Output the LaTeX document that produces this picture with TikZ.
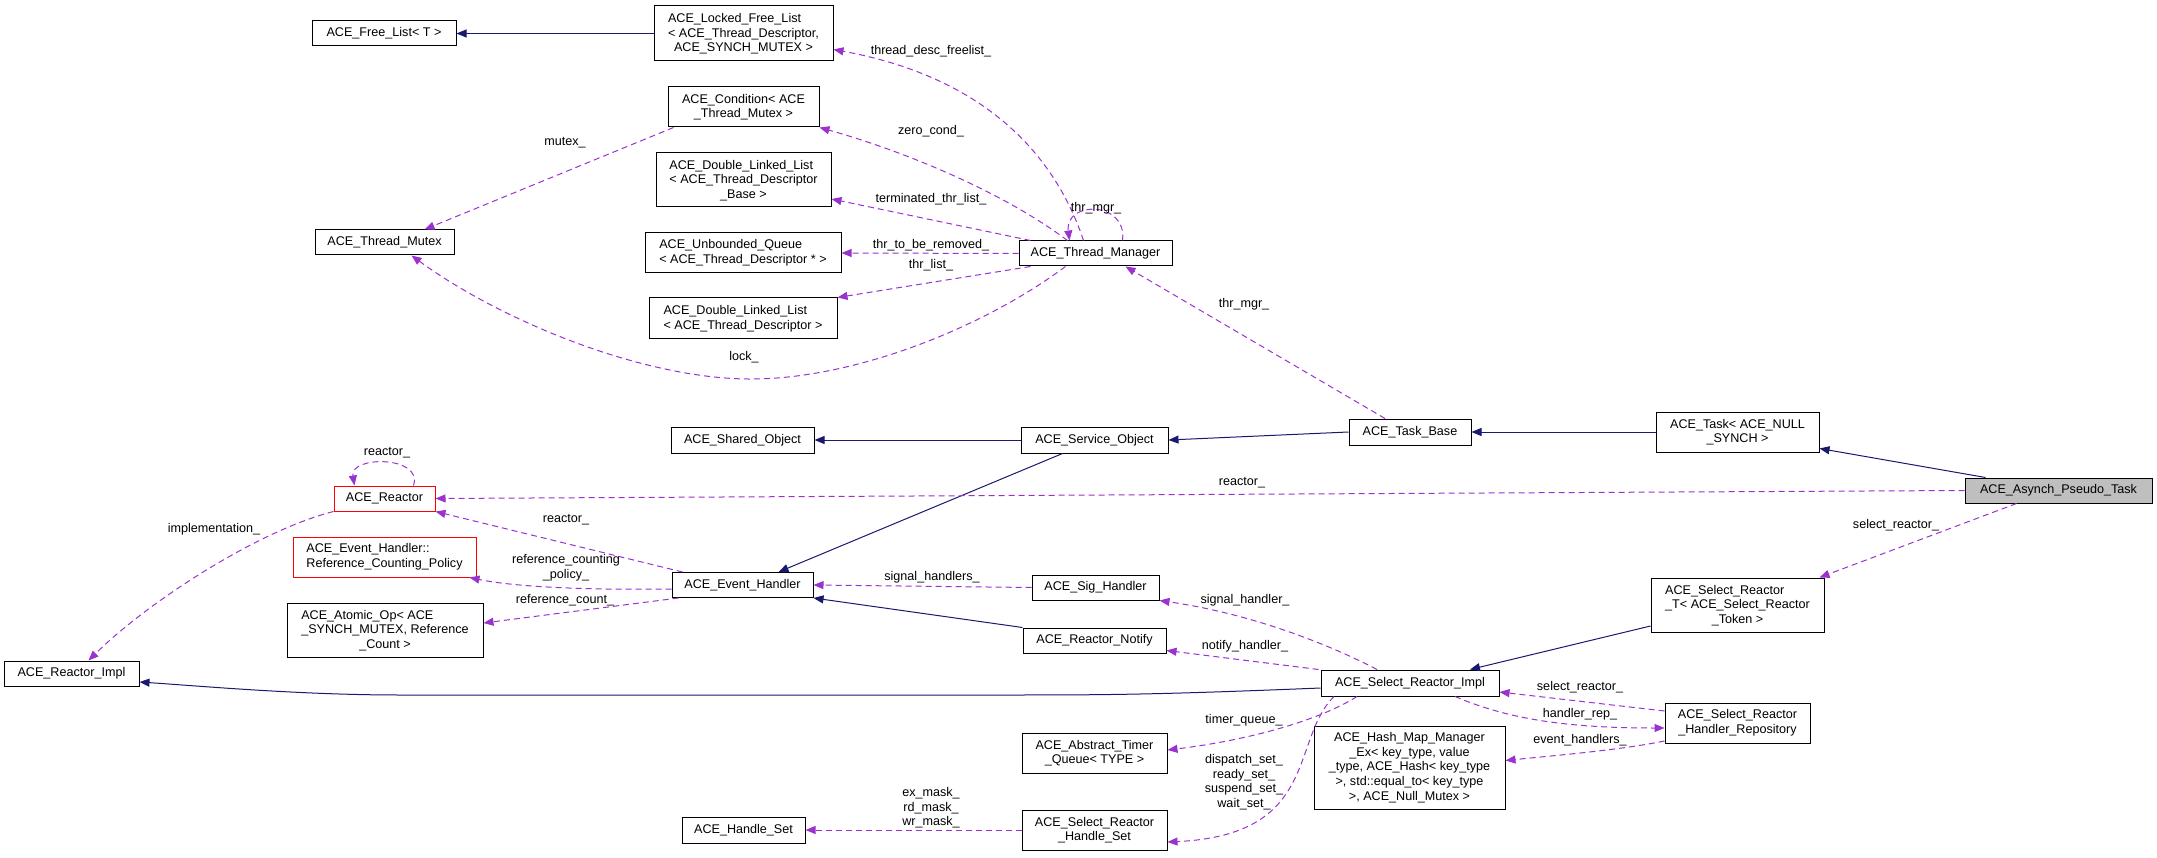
\documentclass[tikz,border=0pt]{standalone}
\usepackage{fontspec}
\setmainfont{Liberation Sans}
\usetikzlibrary{arrows.meta}
\definecolor{midblue}{HTML}{191970}
\definecolor{orchid}{HTML}{9A32CD}
\definecolor{boxgray}{HTML}{BFBFBF}
\newcommand{\leftpair}[2]{\begin{tabular}[b]{@{}l@{}}#1\\#2\end{tabular}}

\begin{document}
\begin{tikzpicture}[x=1pt, y=-1pt,
    cls/.style={draw=black, line width=1pt, fill=white, inner sep=0pt, align=center,
      font=\fontsize{12.6}{14.6}\selectfont},
    lbl/.style={inner sep=0pt, align=center, font=\fontsize{12.6}{14.6}\selectfont},
    inherit/.style={draw=midblue, line width=1pt, -{Triangle[length=10pt,width=8pt]}},
    uses/.style={draw=orchid, line width=1pt, dash pattern=on 6pt off 4pt,
      -{Triangle[length=10pt,width=8pt]}}]
    \useasboundingbox (0,0) rectangle (2157,858);
    % Thread manager side
    \node[cls, minimum width=144, minimum height=25] (freelist) at (384,33.5) {ACE\_Free\_List< T >};
    \node[cls, minimum width=179, minimum height=55] (lockedlist) at (743.5,33.5)
      {\leftpair{ACE\_Locked\_Free\_List}{< ACE\_Thread\_Descriptor,}\\ACE\_SYNCH\_MUTEX >};
    \node[cls, minimum width=151, minimum height=40] (condition) at (743.5,107) {ACE\_Condition< ACE\\\_Thread\_Mutex >};
    \node[cls, minimum width=175, minimum height=54] (dllbase) at (743.5,180)
      {\leftpair{ACE\_Double\_Linked\_List}{< ACE\_Thread\_Descriptor}\\\_Base >};
    \node[cls, align=left, minimum width=196, minimum height=40] (unbqueue) at (743,253)
      {ACE\_Unbounded\_Queue\\< ACE\_Thread\_Descriptor * >};
    \node[cls, align=left, minimum width=188, minimum height=41] (dlldesc) at (743,318.5)
      {ACE\_Double\_Linked\_List\\< ACE\_Thread\_Descriptor >};
    \node[cls, minimum width=139, minimum height=25] (thrmutex) at (384.5,242.5) {ACE\_Thread\_Mutex};
    \node[cls, minimum width=153, minimum height=25] (thrmgr) at (1095.5,253.5) {ACE\_Thread\_Manager};
    % Task chain
    \node[cls, minimum width=143, minimum height=26] (sharedobj) at (742.5,440) {ACE\_Shared\_Object};
    \node[cls, minimum width=147, minimum height=26] (serviceobj) at (1094.5,440) {ACE\_Service\_Object};
    \node[cls, minimum width=122, minimum height=26] (taskbase) at (1410,432) {ACE\_Task\_Base};
    \node[cls, minimum width=163, minimum height=40] (task) at (1737.5,432) {ACE\_Task< ACE\_NULL\\\_SYNCH >};
    \node[cls, fill=boxgray, minimum width=187, minimum height=25] (pseudotask) at (2058.5,490.5) {ACE\_Asynch\_Pseudo\_Task};
    % Reactor side
    \node[cls, draw=red, minimum width=101, minimum height=25] (reactor) at (384.5,498.5) {ACE\_Reactor};
    \node[cls, draw=red, align=left, minimum width=183, minimum height=40] (refpolicy) at (384.5,557)
      {ACE\_Event\_Handler::\\Reference\_Counting\_Policy};
    \node[cls, minimum width=196, minimum height=54] (atomicop) at (385,630)
      {\leftpair{ACE\_Atomic\_Op< ACE}{\_SYNCH\_MUTEX, Reference}\\\_Count >};
    \node[cls, minimum width=135, minimum height=25] (reactorimpl) at (71.5,673.5) {ACE\_Reactor\_Impl};
    \node[cls, minimum width=141, minimum height=25] (eventhandler) at (742.5,585) {ACE\_Event\_Handler};
    \node[cls, minimum width=127, minimum height=25] (sighandler) at (1095.5,587.5) {ACE\_Sig\_Handler};
    \node[cls, minimum width=143, minimum height=25] (notify) at (1094.5,640.5) {ACE\_Reactor\_Notify};
    \node[cls, minimum width=173, minimum height=54] (selectT) at (1737.5,605)
      {\leftpair{ACE\_Select\_Reactor}{\_T< ACE\_Select\_Reactor}\\\_Token >};
    \node[cls, minimum width=178, minimum height=26] (selectimpl) at (1410,683) {ACE\_Select\_Reactor\_Impl};
    \node[cls, minimum width=145, minimum height=40] (timerqueue) at (1094.5,753) {ACE\_Abstract\_Timer\\\_Queue< TYPE >};
    \node[cls, minimum width=191, minimum height=83] (hashmap) at (1409.5,767.5)
      {ACE\_Hash\_Map\_Manager\\\_Ex< key\_type, value\\\_type, ACE\_Hash< key\_type\\>, std::equal\_to< key\_type\\>, ACE\_Null\_Mutex >};
    \node[cls, minimum width=145, minimum height=40] (handlerrepo) at (1737.5,723) {ACE\_Select\_Reactor\\\_Handler\_Repository};
    \node[cls, minimum width=123, minimum height=26] (handleset) at (743.5,830) {ACE\_Handle\_Set};
    \node[cls, minimum width=145, minimum height=40] (selecthandleset) at (1094.5,830) {ACE\_Select\_Reactor\\\_Handle\_Set};
    % Inheritance
    \draw[inherit] (lockedlist) -- (freelist);
    \draw[inherit] (serviceobj) -- (sharedobj);
    \draw[inherit] (taskbase.west) -- (serviceobj.east);
    \draw[inherit] (task) -- (taskbase);
    \draw[inherit] ([xshift=21pt]pseudotask.north west) -- ([yshift=4pt]task.south east);
    \draw[inherit] ([xshift=-32pt]serviceobj.south) -- ([xshift=36pt]eventhandler.north);
    \draw[inherit] (notify.north west) -- (eventhandler.south east);
    \draw[inherit] ([yshift=-21pt]selectT.west) -- ([xshift=60pt]selectimpl.north);
    \draw[inherit] ([yshift=-5pt]selectimpl.west) .. controls (1150,695) and (1100,695) .. (1000,695)
      -- (400,695) .. controls (300,695) and (200,686) .. ([yshift=-8.5pt]reactorimpl.east);
    % Members of the thread manager
    \draw[uses] ([xshift=-12pt]thrmgr.north) .. controls (1060,170) and (1000,80) .. ([yshift=-16pt]lockedlist.east);
    \draw[uses] ([xshift=-28pt]thrmgr.north) .. controls (1000,190) and (900,150) .. (condition.south east);
    \draw[uses] ([xshift=-65pt]thrmgr.north) -- ([yshift=-19pt]dllbase.east);
    \draw[uses] (thrmgr.west) -- (unbqueue.east);
    \draw[uses] ([xshift=-65pt]thrmgr.south) -- (dlldesc.north east);
    \draw[uses] ([xshift=27pt]thrmgr.north) .. controls +(5,-40) and +(-5,-40) .. ([xshift=-26pt]thrmgr.north);
    \draw[uses] ([xshift=-30pt]thrmgr.south) .. controls (980,330) and (850,380) .. (748,379)
      .. controls (640,378) and (500,320) .. ([xshift=27pt]thrmutex.south);
    \draw[uses] ([xshift=6pt]condition.south west) -- ([xshift=40pt]thrmutex.north);
    \draw[uses] ([xshift=-25pt]taskbase.north) -- ([xshift=30pt]thrmgr.south);
    % Reactor members
    \draw[uses] (pseudotask.west) -- (reactor.east);
    \draw[uses] ([xshift=-22pt]reactor.north east) .. controls +(10,-30) and +(-5,-30) .. ([xshift=21pt]reactor.north west);
    \draw[uses] (reactor.south west) .. controls (260,530) and (150,600) .. ([xshift=17pt]reactorimpl.north);
    \draw[uses] ([xshift=11pt]eventhandler.north west) -- (reactor.south east);
    \draw[uses] ([yshift=-4pt]eventhandler.west) .. controls (600,590) and (520,588) .. ([xshift=-7pt]refpolicy.south east);
    \draw[uses] ([xshift=7pt]eventhandler.south west) -- ([yshift=7pt]atomicop.east);
    \draw[uses] (sighandler.west) -- (eventhandler.east);
    \draw[uses] ([xshift=-42pt]pseudotask.south) -- ([xshift=-5pt]selectT.north east);
    \draw[uses] ([xshift=-33pt]selectimpl.north) .. controls (1340,650) and (1260,615) .. (sighandler.south east);
    \draw[uses] ([xshift=-2pt]selectimpl.north west) -- ([yshift=-10pt]notify.east);
    \draw[uses] ([xshift=-53pt]selectimpl.south) .. controls (1320,720) and (1250,740) .. ([yshift=3pt]timerqueue.east);
    \draw[uses] ([xshift=-76pt]selectimpl.south) .. controls (1290,740) and (1320,835) .. ([yshift=-12pt]selecthandleset.east);
    \draw[uses] (selecthandleset.west) -- (handleset.east);
    \draw[uses] ([xshift=45pt]selectimpl.south) .. controls (1510,720) and (1570,728) .. ([yshift=-5pt]handlerrepo.west);
    \draw[uses] ([yshift=12pt]handlerrepo.west) -- ([yshift=-9pt]selectimpl.east);
    \draw[uses] ([yshift=-18pt]handlerrepo.west) .. controls (1620,750) and (1560,755) .. ([yshift=7pt]hashmap.east);
    % Labels
    \node[lbl] (l-freelist) at (931,51) {thread\_desc\_freelist\_};
    \node[lbl] (l-zerocond) at (931,131) {zero\_cond\_};
    \node[lbl] (l-terminated) at (931,199) {terminated\_thr\_list\_};
    \node[lbl] (l-selfmgr) at (1096,208) {thr\_mgr\_};
    \node[lbl] (l-removed) at (931,245) {thr\_to\_be\_removed\_};
    \node[lbl] (l-thrlist) at (931,265) {thr\_list\_};
    \node[lbl] (l-mutex) at (565,143) {mutex\_};
    \node[lbl] (l-lock) at (744,357) {lock\_};
    \node[lbl] (l-thrmgr) at (1244,304) {thr\_mgr\_};
    \node[lbl] (l-reactor) at (1242,483) {reactor\_};
    \node[lbl] (l-selfreactor) at (387,453) {reactor\_};
    \node[lbl] (l-impl) at (214,529) {implementation\_};
    \node[lbl] (l-ehreactor) at (566,520) {reactor\_};
    \node[lbl] (l-policy) at (566,568) {reference\_counting\\\_policy\_};
    \node[lbl] (l-refcount) at (565,600) {reference\_count\_};
    \node[lbl] (l-sighandlers) at (932,577) {signal\_handlers\_};
    \node[lbl] (l-select) at (1896,525) {select\_reactor\_};
    \node[lbl] (l-sighandler) at (1245,600) {signal\_handler\_};
    \node[lbl] (l-notify) at (1245,646) {notify\_handler\_};
    \node[lbl] (l-timer) at (1244,720) {timer\_queue\_};
    \node[lbl] (l-sets) at (1244,782) {dispatch\_set\_\\ready\_set\_\\suspend\_set\_\\wait\_set\_};
    \node[lbl] (l-masks) at (931,808) {ex\_mask\_\\rd\_mask\_\\wr\_mask\_};
    \node[lbl] (l-backref) at (1580,687) {select\_reactor\_};
    \node[lbl] (l-handlerrep) at (1580,714) {handler\_rep\_};
    \node[lbl] (l-evhandlers) at (1580,740) {event\_handlers\_};
\end{tikzpicture}
\end{document}
